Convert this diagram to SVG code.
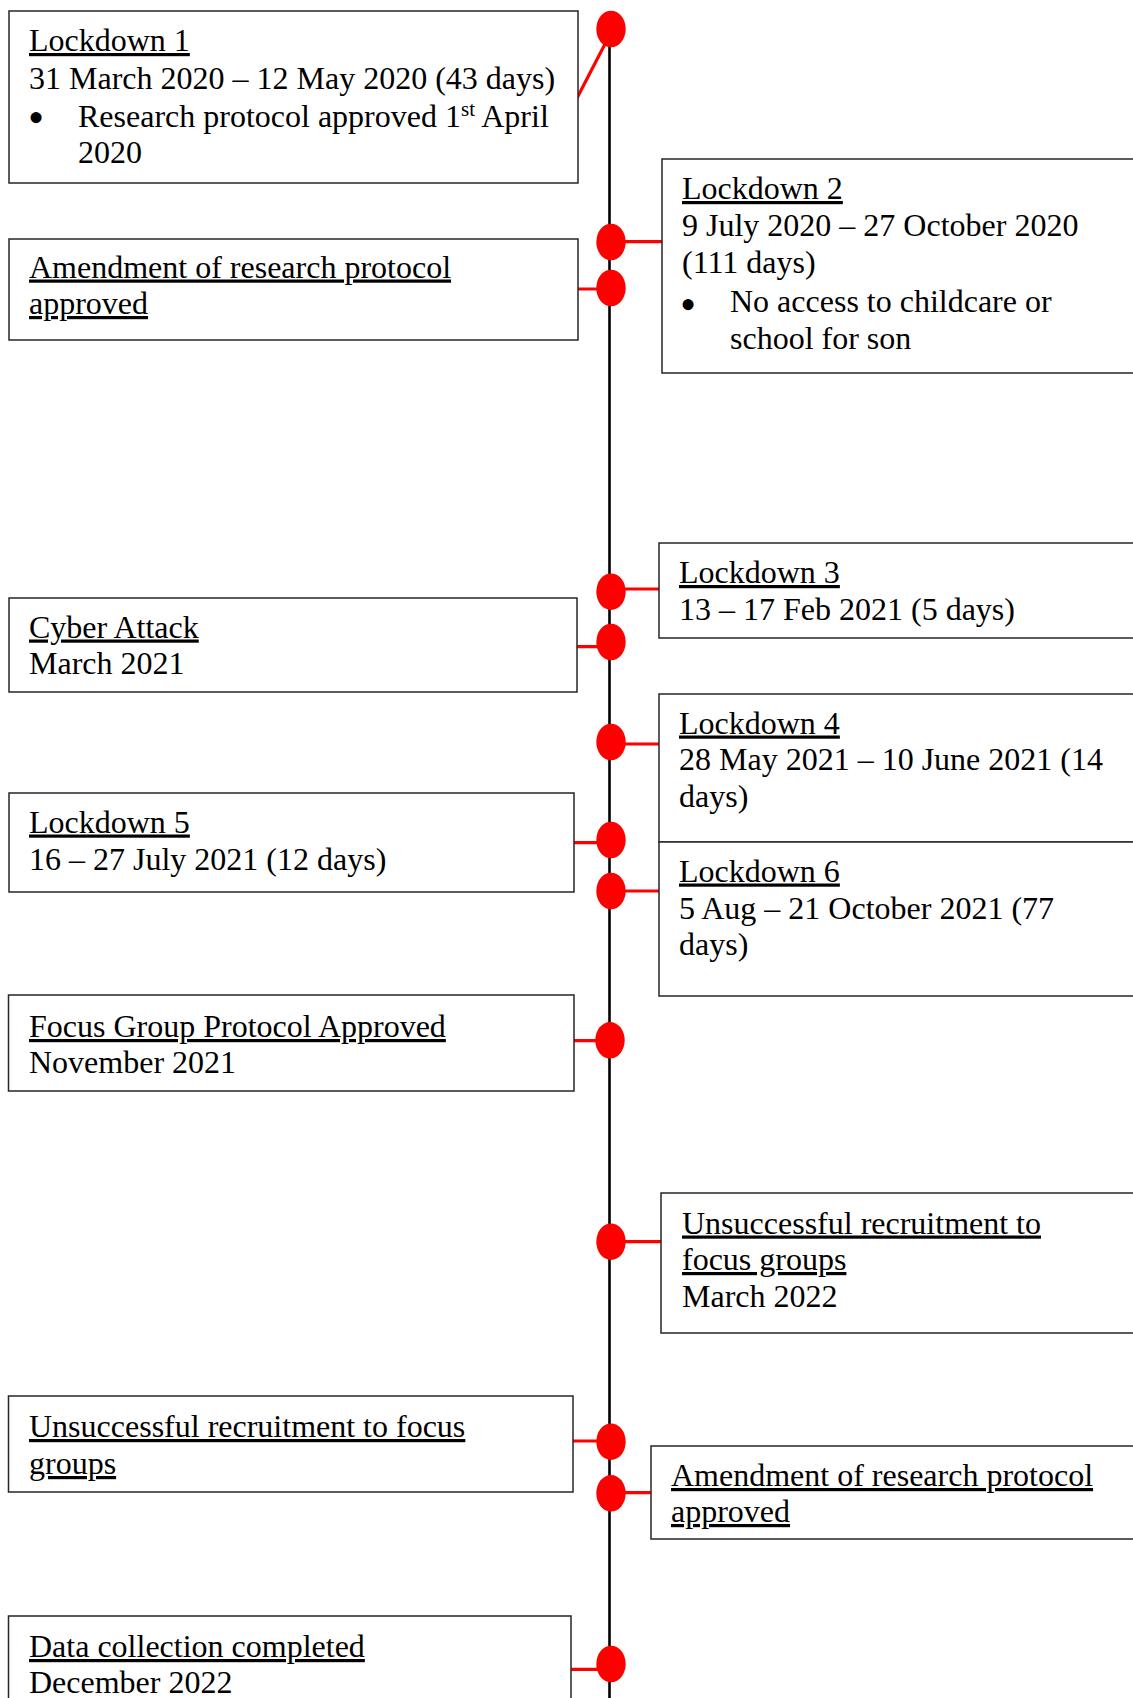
<svg xmlns="http://www.w3.org/2000/svg" width="1133" height="1698" viewBox="0 0 1133 1698">
  <style>
    .box { fill: #ffffff; stroke: #262626; stroke-width: 1.5; }
    .t { font-family: "Liberation Serif", "Times New Roman", serif; font-size: 32px; fill: #000000; }
    .u { text-decoration: underline; text-decoration-thickness: 2.2px; text-underline-offset: 4px; }
    .sup { font-size: 21px; }
    .bullet { font-size: 46px; }
    .axis { stroke: #000000; stroke-width: 2.6; fill: none; }
    .stub { stroke: #ff0000; stroke-width: 3.2; fill: none; }
    .dot { fill: #ff0000; }
  </style>

  <!-- timeline axis, red stubs and event dots -->
  <g id="connectors">
    <line class="axis" x1="609.5" y1="30" x2="609.5" y2="1698"/>
    <line class="stub" x1="576" y1="100" x2="605" y2="44"/>
    <line class="stub" x1="611" y1="241.7" x2="662" y2="241.7"/>
    <line class="stub" x1="578" y1="289" x2="611" y2="289"/>
    <line class="stub" x1="611" y1="589" x2="659" y2="589"/>
    <line class="stub" x1="577" y1="646.7" x2="611" y2="646.7"/>
    <line class="stub" x1="611" y1="744" x2="659" y2="744"/>
    <line class="stub" x1="572" y1="842.7" x2="611" y2="842.7"/>
    <line class="stub" x1="611" y1="891" x2="659" y2="891"/>
    <line class="stub" x1="574" y1="1040.7" x2="610" y2="1040.7"/>
    <line class="stub" x1="611" y1="1241.7" x2="661" y2="1241.7"/>
    <line class="stub" x1="573" y1="1441" x2="611" y2="1441"/>
    <line class="stub" x1="611" y1="1492.7" x2="651" y2="1492.7"/>
    <line class="stub" x1="569" y1="1669.3" x2="611" y2="1669.3"/>

    <ellipse class="dot" cx="611" cy="29" rx="14.7" ry="18.3"/>
    <ellipse class="dot" cx="611" cy="242" rx="14.7" ry="18.3"/>
    <ellipse class="dot" cx="611" cy="288" rx="14.7" ry="18.3"/>
    <ellipse class="dot" cx="611" cy="591.7" rx="14.7" ry="18.3"/>
    <ellipse class="dot" cx="611" cy="642" rx="14.7" ry="18.3"/>
    <ellipse class="dot" cx="611" cy="742" rx="14.7" ry="18.3"/>
    <ellipse class="dot" cx="611" cy="840" rx="14.7" ry="18.3"/>
    <ellipse class="dot" cx="611" cy="891" rx="14.7" ry="18.3"/>
    <ellipse class="dot" cx="610" cy="1040.3" rx="14.7" ry="18.3"/>
    <ellipse class="dot" cx="611" cy="1241.7" rx="14.7" ry="18.3"/>
    <ellipse class="dot" cx="611" cy="1441.7" rx="14.7" ry="18.3"/>
    <ellipse class="dot" cx="611" cy="1493.3" rx="14.7" ry="18.3"/>
    <ellipse class="dot" cx="611" cy="1664" rx="14.7" ry="18.3"/>
  </g>

  <g id="lockdown1">
    <rect class="box" x="9" y="11" width="569" height="172"/>
    <text class="t" x="29" y="51"><tspan class="u">Lockdown 1</tspan></text>
    <text class="t" x="29" y="88.5">31 March 2020 – 12 May 2020 (43 days)</text>
    <text class="t" x="28" y="133"><tspan class="bullet">•</tspan><tspan x="78" y="126.5">Research protocol approved 1</tspan><tspan class="sup" dy="-11">st</tspan><tspan dy="11"> April</tspan></text>
    <text class="t" x="78" y="163">2020</text>
  </g>

  <g id="amendment1">
    <rect class="box" x="9" y="239" width="569" height="101"/>
    <text class="t" x="29" y="277.5"><tspan class="u">Amendment of research protocol</tspan></text>
    <text class="t" x="29" y="314"><tspan class="u">approved</tspan></text>
  </g>

  <g id="lockdown2">
    <rect class="box" x="662" y="159" width="480" height="214"/>
    <text class="t" x="682" y="199"><tspan class="u">Lockdown 2</tspan></text>
    <text class="t" x="682" y="236">9 July 2020 – 27 October 2020</text>
    <text class="t" x="682" y="273">(111 days)</text>
    <text class="t" x="680" y="320"><tspan class="bullet">•</tspan><tspan x="730" y="311.5">No access to childcare or</tspan></text>
    <text class="t" x="730" y="348.5">school for son</text>
  </g>

  <g id="lockdown3">
    <rect class="box" x="659" y="543" width="483" height="95"/>
    <text class="t" x="679" y="583"><tspan class="u">Lockdown 3</tspan></text>
    <text class="t" x="679" y="619.5">13 – 17 Feb 2021 (5 days)</text>
  </g>

  <g id="cyber-attack">
    <rect class="box" x="9" y="598" width="568" height="94"/>
    <text class="t" x="29" y="637.5"><tspan class="u">Cyber Attack</tspan></text>
    <text class="t" x="29" y="674">March 2021</text>
  </g>

  <g id="lockdown4">
    <rect class="box" x="659" y="694" width="483" height="148"/>
    <text class="t" x="679" y="733.5"><tspan class="u">Lockdown 4</tspan></text>
    <text class="t" x="679" y="770">28 May 2021 – 10 June 2021 (14</text>
    <text class="t" x="679" y="807">days)</text>
  </g>

  <g id="lockdown5">
    <rect class="box" x="9" y="793" width="565" height="99"/>
    <text class="t" x="29" y="832.5"><tspan class="u">Lockdown 5</tspan></text>
    <text class="t" x="29" y="869.5">16 – 27 July 2021 (12 days)</text>
  </g>

  <g id="lockdown6">
    <rect class="box" x="659" y="842" width="483" height="154"/>
    <text class="t" x="679" y="881.5"><tspan class="u">Lockdown 6</tspan></text>
    <text class="t" x="679" y="918.5">5 Aug – 21 October 2021 (77</text>
    <text class="t" x="679" y="955">days)</text>
  </g>

  <g id="focus-group-protocol">
    <rect class="box" x="8.5" y="995" width="565.5" height="96"/>
    <text class="t" x="29" y="1037"><tspan class="u">Focus Group Protocol Approved</tspan></text>
    <text class="t" x="29" y="1073">November 2021</text>
  </g>

  <g id="recruitment1">
    <rect class="box" x="661" y="1193" width="481" height="140"/>
    <text class="t" x="682" y="1233.5"><tspan class="u">Unsuccessful recruitment to</tspan></text>
    <text class="t" x="682" y="1270"><tspan class="u">focus groups</tspan></text>
    <text class="t" x="682" y="1306.5">March 2022</text>
  </g>

  <g id="recruitment2">
    <rect class="box" x="8.5" y="1396" width="564.5" height="96"/>
    <text class="t" x="29" y="1437"><tspan class="u">Unsuccessful recruitment to focus</tspan></text>
    <text class="t" x="29" y="1474"><tspan class="u">groups</tspan></text>
  </g>

  <g id="amendment2">
    <rect class="box" x="651" y="1446" width="491" height="93"/>
    <text class="t" x="671" y="1486"><tspan class="u">Amendment of research protocol</tspan></text>
    <text class="t" x="671" y="1522"><tspan class="u">approved</tspan></text>
  </g>

  <g id="data-collection">
    <rect class="box" x="8.5" y="1616" width="562.5" height="100"/>
    <text class="t" x="29" y="1657"><tspan class="u">Data collection completed</tspan></text>
    <text class="t" x="29" y="1693">December 2022</text>
  </g>
</svg>
